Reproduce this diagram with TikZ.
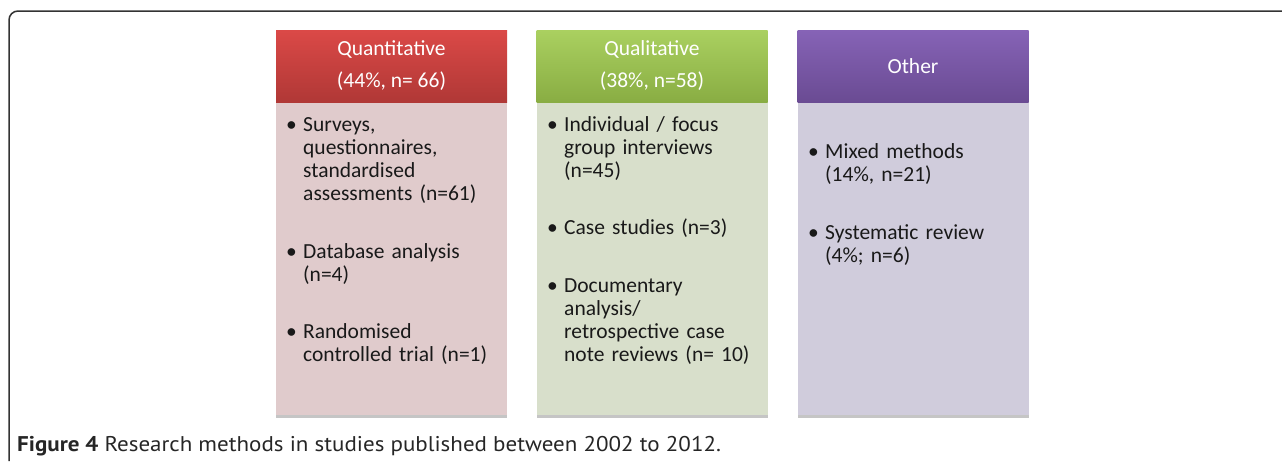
\documentclass[tikz,border=0pt]{standalone}
\usepackage{fontspec}
\setmainfont{Carlito}
\newfontfamily\capfont[FakeStretch=1.08]{PT Sans}
\usetikzlibrary{shadows}

\definecolor{quanttop}{RGB}{219,73,71}
\definecolor{quantbot}{RGB}{176,56,54}
\definecolor{quantfill}{RGB}{224,203,204}
\definecolor{qualtop}{RGB}{170,208,96}
\definecolor{qualbot}{RGB}{137,173,67}
\definecolor{qualfill}{RGB}{216,223,203}
\definecolor{othtop}{RGB}{134,99,182}
\definecolor{othbot}{RGB}{106,75,147}
\definecolor{othfill}{RGB}{208,204,220}

\newcommand{\bul}{\llap{\makebox[17pt][l]{\textbullet}}}

\begin{document}
\begin{tikzpicture}[x=1pt, y=-1pt,
  head/.style={minimum width=231pt, minimum height=72pt, inner sep=0pt,
    text=white, align=center, font=\fontsize{21.5}{32}\selectfont},
  body/.style={minimum width=231pt, minimum height=314pt, inner sep=0pt, anchor=north,
    drop shadow={shadow xshift=0pt, shadow yshift=-2.5pt, fill=black!45, opacity=0.5}},
  item/.style={anchor=base west, text width=200pt, align=left, inner sep=0pt,
    font=\fontsize{21.5}{23.2}\selectfont, text=black!90},
  frame/.style={draw=black!80, line width=1.5pt, rounded corners=9pt}
]
\useasboundingbox (0,0) rectangle (1282,461);

% frame
\draw[frame] (9,461) -- (9,11) -- (1282,11);

% Quantitative
\node[body, fill=quantfill] (quantbody) at (391.5,101) {};
\node[head, top color=quanttop, bottom color=quantbot] (quanthead) at (391.5,66) {Quantitative\\(44\%, n= 66)};
\node[item] (quant1) at (303,131) {\bul Surveys,\\questionnaires,\\standardised\\assessments (n=61)};
\node[item] (quant2) at (303,258) {\bul Database analysis\\(n=4)};
\node[item] (quant3) at (303,338.6) {\bul Randomised\\controlled trial (n=1)};

% Qualitative
\node[body, fill=qualfill] (qualbody) at (652,101) {};
\node[head, top color=qualtop, bottom color=qualbot] (qualhead) at (652,66) {Qualitative\\(38\%, n=58)};
\node[item] (qual1) at (564,131) {\bul Individual / focus\\group interviews\\(n=45)};
\node[item] (qual2) at (564,234.8) {\bul Case studies (n=3)};
\node[item] (qual3) at (564,292.2) {\bul Documentary\\analysis/\\retrospective case\\note reviews (n= 10)};

% Other
\node[body, fill=othfill] (othbody) at (913,101) {};
\node[head, top color=othtop, bottom color=othbot] (othhead) at (913,66) {Other};
\node[item] (oth1) at (825,158.3) {\bul Mixed methods\\(14\%, n=21)};
\node[item] (oth2) at (825,239.5) {\bul Systematic review\\(4\%; n=6)};

% caption
\node[anchor=base west, inner sep=0pt, text=black!85,
  font=\capfont\fontsize{21.3}{24}\selectfont] (caption) at (17,451)
  {\textbf{Figure 4} Research methods in studies published between 2002 to 2012.};

\end{tikzpicture}
\end{document}
